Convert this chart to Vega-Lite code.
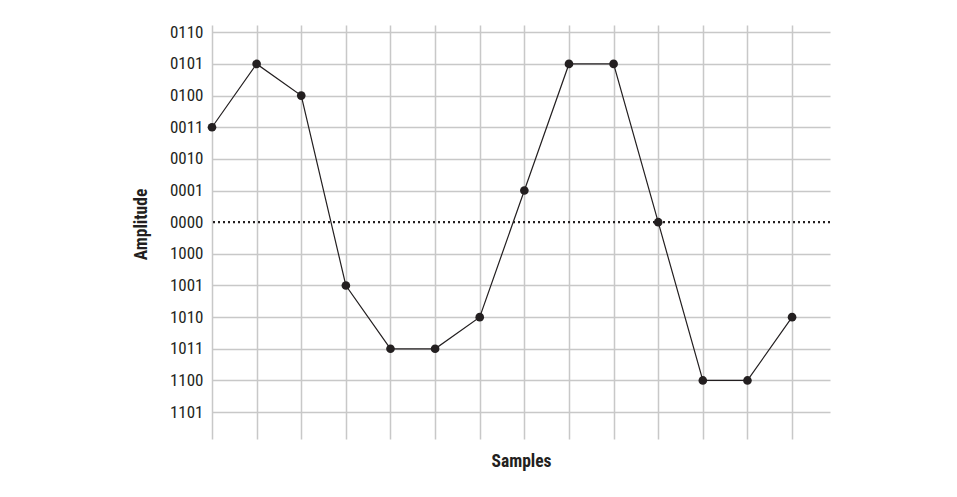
{
  "$schema": "https://vega.github.io/schema/vega-lite/v6.json",
  "width": 618,
  "height": 414,
  "autosize": {"type": "none"},
  "padding": {"left": 212, "top": 25, "right": 127, "bottom": 58},
  "background": "white",
  "config": {
    "view": {"stroke": null},
    "font": "Liberation Sans Narrow, Roboto Condensed, DejaVu Sans Condensed, sans-serif"
  },
  "datasets": {
    "samples": [
      {"sample": 0, "level": 3, "code": "0011"},
      {"sample": 1, "level": 5, "code": "0101"},
      {"sample": 2, "level": 4, "code": "0100"},
      {"sample": 3, "level": -2, "code": "1001"},
      {"sample": 4, "level": -4, "code": "1011"},
      {"sample": 5, "level": -4, "code": "1011"},
      {"sample": 6, "level": -3, "code": "1010"},
      {"sample": 7, "level": 1, "code": "0001"},
      {"sample": 8, "level": 5, "code": "0101"},
      {"sample": 9, "level": 5, "code": "0101"},
      {"sample": 10, "level": 0, "code": "0000"},
      {"sample": 11, "level": -5, "code": "1100"},
      {"sample": 12, "level": -5, "code": "1100"},
      {"sample": 13, "level": -3, "code": "1010"}
    ],
    "zero": [{"level": 0}]
  },
  "layer": [
    {
      "data": {"name": "zero"},
      "mark": {"type": "rule", "color": "#231f20", "strokeWidth": 2.2, "strokeDash": [2, 3]},
      "encoding": {
        "y": {"field": "level", "type": "quantitative", "scale": {"domain": [-6.85, 6.23], "nice": false, "zero": false}}
      }
    },
    {
      "data": {"name": "samples"},
      "mark": {"type": "line", "color": "#231f20", "strokeWidth": 1.2},
      "encoding": {
        "x": {
          "field": "sample", "type": "quantitative",
          "scale": {"domain": [0, 13.85], "nice": false, "zero": false},
          "axis": {
            "values": [0, 1, 2, 3, 4, 5, 6, 7, 8, 9, 10, 11, 12, 13],
            "tickCount": 30,
            "labels": false, "ticks": false, "domain": false,
            "grid": true, "gridColor": "#c8c8c8", "gridWidth": 1.5,
            "title": "Samples",
            "titleFontSize": 17.5, "titleFontWeight": "bold", "titleColor": "#231f20",
            "titleBaseline": "top", "titleY": 13
          }
        },
        "y": {
          "field": "level", "type": "quantitative",
          "scale": {"domain": [-6.85, 6.23], "nice": false, "zero": false},
          "axis": {
            "values": [-6, -5, -4, -3, -2, -1, 0, 1, 2, 3, 4, 5, 6],
            "tickCount": 30,
            "labelExpr": "['1101','1100','1011','1010','1001','1000','0000','0001','0010','0011','0100','0101','0110'][datum.value + 6]",
            "labelOverlap": false,
            "ticks": false, "domain": false,
            "grid": true, "gridColor": "#c8c8c8", "gridWidth": 1.5,
            "gridOpacity": {"condition": {"test": "datum.value === 0", "value": 0}, "value": 1},
            "labelFontSize": 17, "labelColor": "#231f20", "labelPadding": 9, "labelBaseline": "middle",
            "title": "Amplitude", "titleFontSize": 17.5, "titleFontWeight": "bold", "titleColor": "#231f20",
            "titleAngle": -90, "titleX": -62, "titleY": 199, "titleAlign": "center", "titleBaseline": "bottom"
          }
        }
      }
    },
    {
      "data": {"name": "samples"},
      "mark": {"type": "point", "filled": true, "color": "#231f20", "opacity": 1, "size": 75},
      "encoding": {
        "x": {"field": "sample", "type": "quantitative"},
        "y": {"field": "level", "type": "quantitative"}
      }
    }
  ]
}
